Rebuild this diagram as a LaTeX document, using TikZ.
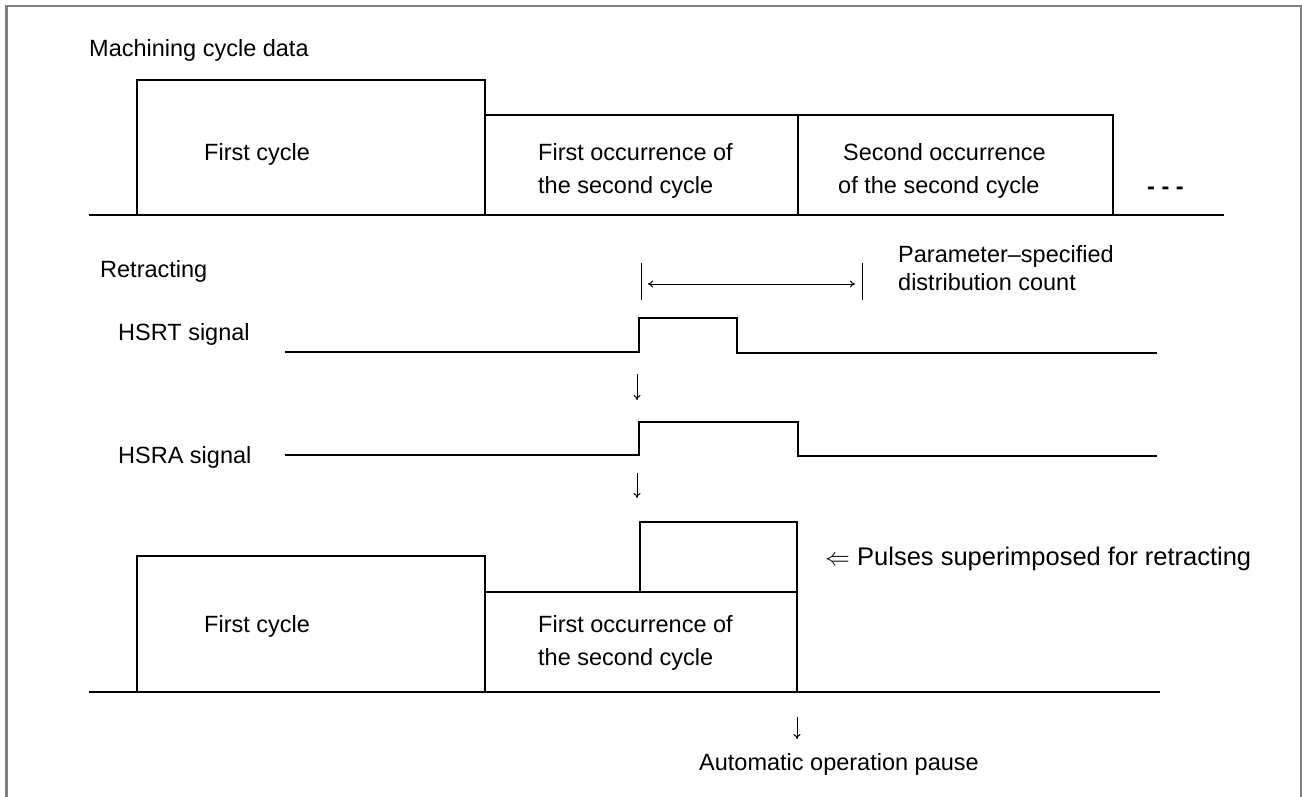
\documentclass[tikz,border=0pt]{standalone}
\usepackage{fontspec}
\setmainfont{Liberation Sans}
\usetikzlibrary{arrows.meta}
\begin{document}
\begin{tikzpicture}[x=1pt,y=-1pt,
  lbl/.style={anchor=base west,inner sep=0pt,font=\fontsize{23.5}{28}\selectfont},
  wave/.style={line width=1.4pt,black},
  frameline/.style={line width=2.5pt,black!50},
  downarrow/.style={-{To[length=5pt,width=7pt]},line width=1pt},
  spanarrow/.style={{To[length=5pt,width=7pt]}-{To[length=5pt,width=7pt]},line width=1pt}]
\useasboundingbox (0,0) rectangle (1302,796);
\draw[frameline] (6.5,800) -- (6.5,6) -- (1301,6) -- (1301,800);

% ---------- machining cycle data ----------
\node[lbl] (mcd) at (89,56) {Machining cycle data};
\draw[wave] (137,215) -- (137,80) -- (485,80) -- (485,215);
\draw[wave] (485,115) -- (1113,115) -- (1113,215);
\draw[wave] (798,115) -- (798,215);
\draw[wave] (89,215) -- (1224,215);
\node[lbl] (fc1) at (204,160) {First cycle};
\node[lbl] (fo1a) at (538,160) {First occurrence of};
\node[lbl] (fo1b) at (538,193) {the second cycle};
\node[lbl] (so1a) at (843,160) {Second occurrence};
\node[lbl] (so1b) at (838,193) {of the second cycle};
\node[lbl,font=\fontsize{23.5}{28}\selectfont\bfseries] (dots) at (1147,194) {- - -};

% ---------- retracting ----------
\node[lbl] (ret) at (100,277) {Retracting};
\coordinate (t1a) at (641,263); \coordinate (t1b) at (641,300);
\coordinate (t2a) at (862,263); \coordinate (t2b) at (862,300);
\draw[line width=1pt] (t1a) -- (t1b);
\draw[line width=1pt] (t2a) -- (t2b);
\coordinate (sa) at (648,284); \coordinate (sb) at (855,284);
\draw[spanarrow] (sa) -- (sb);
\node[lbl] (par1) at (898,262) {Parameter–specified};
\node[lbl] (par2) at (898,290) {distribution count};

\node[lbl] (hsrt) at (118,340) {HSRT signal};
\draw[wave] (285,352) -- (639,352) -- (639,318) -- (737,318) -- (737,353) -- (1157,353);
\coordinate (a1s) at (637,374); \coordinate (a1e) at (637,400);
\draw[downarrow] (a1s) -- (a1e);

\node[lbl] (hsra) at (118,463) {HSRA signal};
\draw[wave] (285,455) -- (639,455) -- (639,422) -- (798,422) -- (798,456) -- (1157,456);
\coordinate (a2s) at (637,473); \coordinate (a2e) at (637,498);
\draw[downarrow] (a2s) -- (a2e);

% ---------- resulting cycle ----------
\draw[wave] (137,692) -- (137,556) -- (485,556) -- (485,692);
\draw[wave] (485,592) -- (640,592) -- (640,522) -- (797,522) -- (797,692);
\draw[wave] (640,592) -- (797,592);
\draw[wave] (89,692) -- (1160,692);
\node[lbl] (fc2) at (204,632) {First cycle};
\node[lbl] (fo2a) at (538,632) {First occurrence of};
\node[lbl] (fo2b) at (538,665) {the second cycle};
\node[lbl,font=\fontsize{25.5}{30}\selectfont] (pul) at (825,565) {$\Leftarrow$ Pulses superimposed for retracting};
\coordinate (a3s) at (797,717); \coordinate (a3e) at (797,739);
\draw[downarrow] (a3s) -- (a3e);
\node[lbl] (aop) at (699,770) {Automatic operation pause};
\end{tikzpicture}
\end{document}
